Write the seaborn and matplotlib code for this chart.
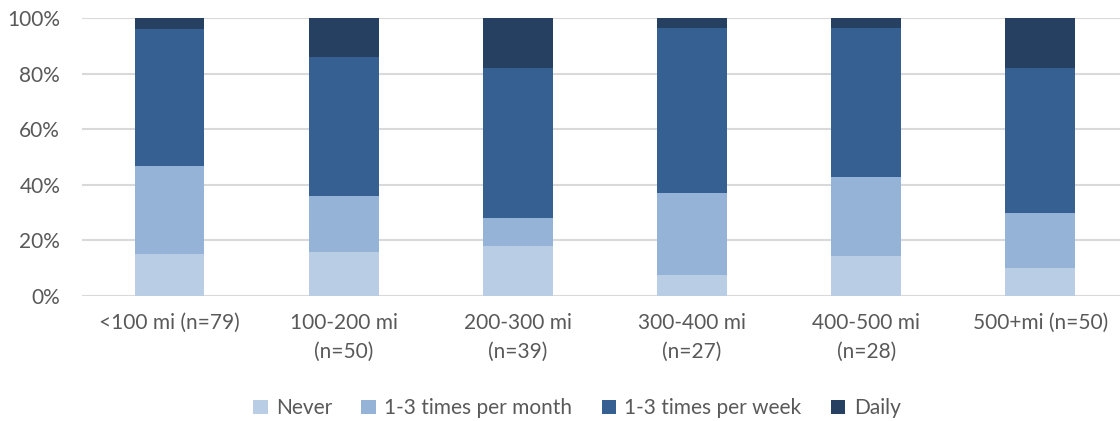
import numpy as np
import pandas as pd
import matplotlib.pyplot as plt
import seaborn as sns
from matplotlib.patches import Patch
from matplotlib.ticker import PercentFormatter

# Share of respondents by distance band (percent)
categories = ["<100 mi (n=79)", "100-200 mi\n(n=50)", "200-300 mi\n(n=39)",
              "300-400 mi\n(n=27)", "400-500 mi\n(n=28)", "500+mi (n=50)"]
never = [15.2, 16.0, 17.9, 7.4, 14.3, 10.0]
monthly = [31.6, 20.0, 10.3, 29.6, 28.6, 20.0]
weekly = [49.4, 50.0, 53.8, 59.3, 53.6, 52.0]
daily = [3.8, 14.0, 17.9, 3.7, 3.6, 18.0]

series = ["Never", "1-3 times per month", "1-3 times per week", "Daily"]
colors = ["#B9CDE5", "#95B3D7", "#366092", "#254061"]

df = pd.DataFrame({"Category": categories, "Never": never,
                   "1-3 times per month": monthly,
                   "1-3 times per week": weekly, "Daily": daily})
cum = df[series].cumsum(axis=1)

plt.rcParams["font.family"] = ["Lato", "DejaVu Sans"]
text_color = "#595959"

fig = plt.figure(figsize=(11.2, 4.21), dpi=100)
ax = fig.add_axes([0.0736, 0.297, 0.933, 0.66])

# stacked bars: draw cumulative totals, tallest first
for name, color in reversed(list(zip(series, colors))):
    sns.barplot(x=df["Category"], y=cum[name], color=color, width=0.4,
                saturation=1, ax=ax, zorder=2)

ax.set_ylim(0, 100)
ax.set_xlim(-0.5, 5.5)
ax.set_yticks(range(0, 101, 20))
ax.yaxis.set_major_formatter(PercentFormatter(decimals=0))
ax.grid(axis="y", color="#D9D9D9", linewidth=1.5, zorder=0)
ax.set_axisbelow(True)
for s in ax.spines.values():
    s.set_visible(False)
ax.tick_params(length=0, labelsize=15, colors=text_color)
ax.tick_params(axis="x", pad=12)
ax.tick_params(axis="y", pad=16)
for lbl in ax.get_xticklabels():
    lbl.set_linespacing(1.55)
ax.set_xlabel("")
ax.set_ylabel("")

handles = [Patch(facecolor=c, label=n) for n, c in zip(series, colors)]
fig.legend(handles=handles, loc="center", bbox_to_anchor=(0.515, 0.03),
           ncol=4, frameon=False, fontsize=15, labelcolor=text_color,
           handlelength=0.7, handleheight=0.7, handletextpad=0.4,
           columnspacing=1.4)

fig.savefig("out.png", dpi=100)
